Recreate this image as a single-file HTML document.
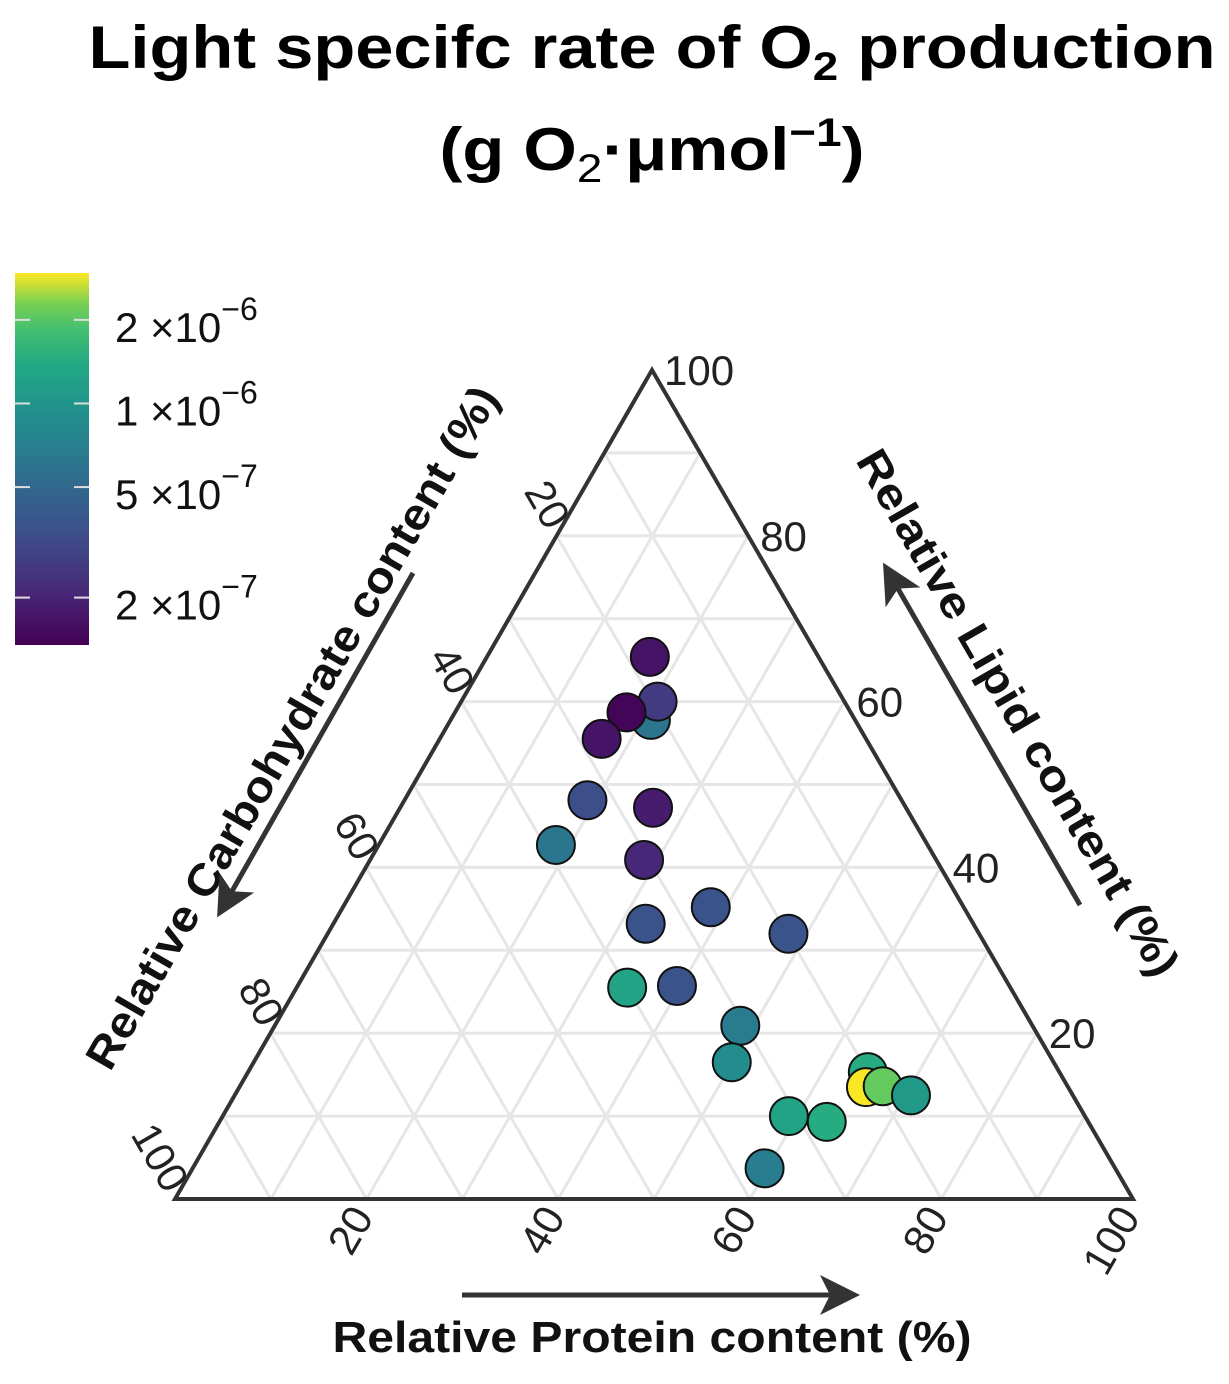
<!DOCTYPE html>
<html><head><meta charset="utf-8"><style>
body{margin:0;background:#fff;}
svg text{font-family:"Liberation Sans",sans-serif;}
</style></head><body>
<svg width="1229" height="1379" viewBox="0 0 1229 1379" xmlns="http://www.w3.org/2000/svg">
<defs>
<linearGradient id="vir" x1="0" y1="1" x2="0" y2="0">
<stop offset="0" stop-color="#440154"/><stop offset="0.13" stop-color="#482475"/><stop offset="0.25" stop-color="#414487"/><stop offset="0.38" stop-color="#355f8d"/><stop offset="0.5" stop-color="#2a788e"/><stop offset="0.63" stop-color="#21918c"/><stop offset="0.75" stop-color="#22a884"/><stop offset="0.85" stop-color="#44bf70"/><stop offset="0.92" stop-color="#7ad151"/><stop offset="1" stop-color="#fde725"/>
</linearGradient>
<marker id="ah" markerWidth="8" markerHeight="8" refX="4" refY="4" orient="auto" markerUnits="strokeWidth"><path d="M0,0 L8,4 L0,8 L2,4 z" fill="#333"/></marker>
</defs>
<g font-weight="bold" font-size="60" text-anchor="middle" fill="#000">
<text x="652" y="68" textLength="1127" lengthAdjust="spacingAndGlyphs">Light specifc rate of O<tspan font-size="40" dy="12">2</tspan><tspan dy="-12"> production</tspan></text>
<text x="652" y="170" textLength="425" lengthAdjust="spacingAndGlyphs">(g O<tspan font-size="40" dy="12" font-weight="normal">2</tspan><tspan dy="-12">·μmol</tspan><tspan font-size="40" dy="-24">−1</tspan><tspan dy="24">)</tspan></text>
</g>
<g>
<rect x="15" y="273" width="74" height="372" fill="url(#vir)"/>
<g id="cbticks"></g>
</g>
<g id="grid"></g>
<polygon points="652,370 175,1199 1133,1199" fill="none" stroke="#333" stroke-width="4"/>
<g id="ticks" font-size="42" fill="#222"></g>
<g id="pts"></g>
<g font-weight="bold" font-size="44" fill="#111">
<text x="652" y="1352" text-anchor="middle" textLength="639" lengthAdjust="spacingAndGlyphs">Relative Protein content (%)</text>
<line x1="462" y1="1295" x2="840" y2="1295" stroke="#333" stroke-width="5" marker-end="url(#ah)"/>
<text transform="translate(305,735) rotate(-60)" text-anchor="middle" textLength="780" lengthAdjust="spacingAndGlyphs">Relative Carbohydrate content (%)</text>
<line x1="413" y1="573" x2="227" y2="900" stroke="#333" stroke-width="5" marker-end="url(#ah)"/>
<text transform="translate(1005,720) rotate(60)" text-anchor="middle" textLength="600" lengthAdjust="spacingAndGlyphs">Relative Lipid content (%)</text>
<line x1="1080" y1="905" x2="893" y2="580" stroke="#333" stroke-width="5" marker-end="url(#ah)"/>
</g>
</svg>
<script>
const protein=[17.0,20.9,20.5,17.9,16.9,19.1,26.4,18.5,28.6,38.4,48.1,32.6,34.5,39.6,48.6,49.9,64.7,65.4,67.1,70.6,59.1,63.4,59.7];
const lipid=[65.4,57.8,60.0,58.7,55.5,48.1,47.2,42.7,40.9,35.2,32.0,33.2,25.5,25.7,20.9,16.5,15.3,13.5,13.6,12.5,10.0,9.3,3.7];
const rate=[1.6e-7,4.5e-7,2.3e-7,1.4e-7,1.6e-7,2.8e-7,1.7e-7,4.5e-7,1.9e-7,3e-7,3e-7,3e-7,8e-7,3e-7,4.8e-7,6e-7,9e-7,2.9e-6,1.4e-6,7e-7,8e-7,9e-7,5e-7];
const cbTicks=[2e-6,1e-6,5e-7,2e-7];
const cbLabels=[["2","6"],["1","6"],["5","7"],["2","7"]];
const gridVals=[10,20,30,40,50,60,70,80,90];
const axisTicks=[20,40,60,80,100];
const NS="http://www.w3.org/2000/svg";
const T={x:652,y:370},BL={x:175,y:1199},BR={x:1133,y:1199};
function pos(p,l){return{x:BL.x+(BR.x-BL.x)*p/100+(T.x-BL.x)*l/100,y:BL.y-(BL.y-T.y)*l/100};}
const lmin=Math.log10(1.35e-7),lmax=Math.log10(2.95e-6);
function cy(v){return 645-(Math.log10(v)-lmin)/(lmax-lmin)*372;}
const vir=["#440154","#482475","#414487","#355f8d","#2a788e","#21918c","#22a884","#44bf70","#7ad151","#bddf26","#fde725"];
function hex(h){return[1,3,5].map(i=>parseInt(h.substr(i,2),16));}
function col(v){let t=(Math.log10(v)-lmin)/(lmax-lmin);t=Math.max(0,Math.min(1,t))*10;const i=Math.min(9,Math.floor(t)),f=t-i;const a=hex(vir[i]),b=hex(vir[i+1]);return"rgb("+a.map((c,k)=>Math.round(c+(b[k]-c)*f)).join(",")+")";}
function mk(tag,at,parent){const e=document.createElementNS(NS,tag);for(const k in at)e.setAttribute(k,at[k]);parent.appendChild(e);return e;}
const g=document.getElementById("grid");
gridVals.forEach(v=>{
 let a=pos(0,v),b=pos(100-v,v);let e=mk("line",{x1:a.x,y1:a.y,x2:b.x,y2:b.y,stroke:"#e6e6e6","stroke-width":3},g);
 
 
 a=pos(v,0);b=pos(v,100-v);e=mk("line",{x1:a.x,y1:a.y,x2:b.x,y2:b.y,stroke:"#e6e6e6","stroke-width":3},g);
 
 
 a=pos(0,100-v);b=pos(100-v,0);e=mk("line",{x1:a.x,y1:a.y,x2:b.x,y2:b.y,stroke:"#e6e6e6","stroke-width":3},g);
 
 
});
const tk=document.getElementById("ticks");
axisTicks.forEach(v=>{
 let p=pos(100-v,v);let e=mk("text",{x:p.x+12,y:p.y+15},tk);e.textContent=v;
 
 
 p=pos(v,0);e=mk("text",{transform:"translate("+(p.x+8)+","+(p.y+18)+") rotate(-60)","text-anchor":"end"},tk);e.textContent=v;
 
 
 p=pos(0,100-v);e=mk("text",{transform:"translate("+(p.x-10)+","+(p.y-4)+") rotate(60)","text-anchor":"end"},tk);e.textContent=v;
 
 
});
const cb=document.getElementById("cbticks");
cbTicks.forEach((v,i)=>{
 const y=cy(v);
 let e=mk("line",{x1:15,y1:y,x2:30,y2:y,stroke:"#ddd","stroke-width":2},cb);
 
 
 e=mk("line",{x1:74,y1:y,x2:89,y2:y,stroke:"#ddd","stroke-width":2},cb);
 
 
 const t=mk("text",{x:115,y:y+22,"font-size":42,fill:"#111"},cb);
 t.innerHTML=cbLabels[i][0]+" ×10<tspan font-size=\"32\" dy=\"-22\">−"+cbLabels[i][1]+"</tspan>";
 
 
});
const pg=document.getElementById("pts");
protein.forEach((p,i)=>{
 const q=pos(p,lipid[i]);
 const c=mk("circle",{cx:q.x,cy:q.y,r:19,fill:col(rate[i]),stroke:"#111","stroke-width":2},pg);
 
 
});
</script>
</body></html>
